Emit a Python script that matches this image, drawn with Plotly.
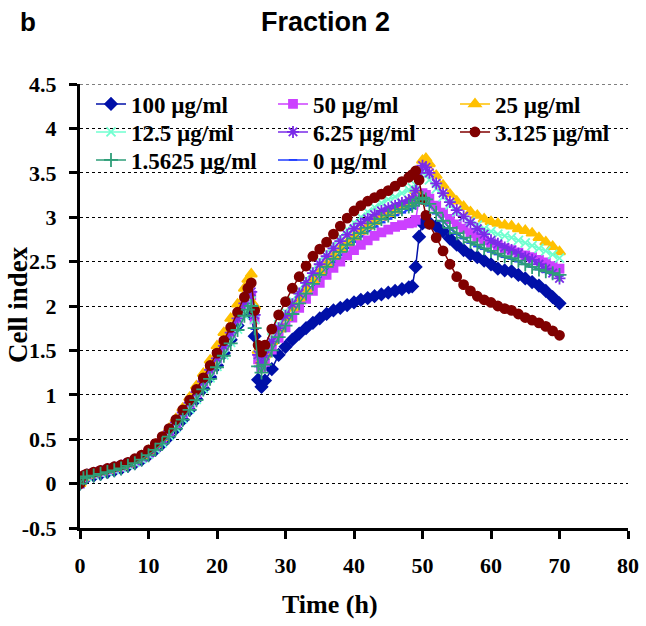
import plotly.graph_objects as go

# Time points (h)
time_h = [0, 0.5, 1, 2, 3, 4, 5, 6, 7, 8, 9, 10, 11, 12, 13, 14, 15, 16, 17, 18, 19, 20, 21, 22, 23, 24,
          24.5, 25, 25.5, 26, 26.5,
          27, 28, 29, 30, 31, 32, 33, 34, 35, 36, 37, 38, 39, 40, 41, 42, 43, 44, 45, 46, 47, 48,
          48.5, 49, 49.5, 50, 50.5,
          51, 52, 53, 54, 55, 56, 57, 58, 59, 60, 61, 62, 63, 64, 65, 66, 67, 68, 69, 70]

ci_100 = [0, 0.05, 0.07, 0.09, 0.11, 0.13, 0.15, 0.17, 0.2, 0.23, 0.27, 0.32, 0.38, 0.45, 0.53, 0.62, 0.72, 0.83, 0.95, 1.07, 1.2, 1.33, 1.47, 1.62, 1.78, 1.95,
          2.02, 1.9, 1.66, 1.17, 1.09,
          1.16, 1.29, 1.45, 1.54, 1.62, 1.69, 1.75, 1.81, 1.86, 1.91, 1.95, 1.98, 2.01, 2.04, 2.07, 2.09, 2.11, 2.13, 2.15, 2.17, 2.19, 2.21,
          2.22, 2.44, 2.78, 2.93, 2.95,
          2.94, 2.9, 2.84, 2.76, 2.69, 2.63, 2.58, 2.55, 2.51, 2.47, 2.42, 2.4, 2.39, 2.35, 2.31, 2.27, 2.23, 2.17, 2.1, 2.03]

ci_50 = [0, 0.07, 0.09, 0.11, 0.13, 0.15, 0.17, 0.19, 0.22, 0.25, 0.29, 0.34, 0.41, 0.49, 0.58, 0.68, 0.79, 0.9, 1.02, 1.14, 1.27, 1.4, 1.54, 1.69, 1.85, 2.01,
         2.08, 2.12, 1.85, 1.4, 1.3,
         1.37, 1.51, 1.64, 1.76, 1.87, 1.98, 2.08, 2.17, 2.26, 2.35, 2.43, 2.5, 2.57, 2.63, 2.69, 2.74, 2.79, 2.83, 2.86, 2.89, 2.91, 2.93,
         2.94, 2.97, 3.2, 3.27, 3.25,
         3.21, 3.13, 3.05, 2.98, 2.92, 2.87, 2.82, 2.78, 2.74, 2.71, 2.68, 2.65, 2.63, 2.6, 2.57, 2.55, 2.52, 2.49, 2.45, 2.42]

ci_25 = [0, 0.07, 0.09, 0.11, 0.13, 0.15, 0.17, 0.19, 0.22, 0.26, 0.31, 0.37, 0.44, 0.52, 0.62, 0.73, 0.85, 0.97, 1.1, 1.24, 1.39, 1.55, 1.7, 1.86, 2.02, 2.2,
         2.3, 2.36, 2.0, 1.5, 1.38,
         1.45, 1.6, 1.74, 1.87, 1.98, 2.09, 2.19, 2.29, 2.38, 2.47, 2.56, 2.64, 2.71, 2.78, 2.84, 2.9, 2.95, 3.0, 3.04, 3.08, 3.13, 3.17,
         3.2, 3.3, 3.52, 3.64, 3.66,
         3.6, 3.47, 3.36, 3.26, 3.18, 3.12, 3.06, 3.02, 2.98, 2.95, 2.93, 2.91, 2.9, 2.87, 2.85, 2.82, 2.77, 2.72, 2.67, 2.61]

ci_12_5 = [0, 0.07, 0.08, 0.1, 0.12, 0.14, 0.16, 0.18, 0.21, 0.24, 0.28, 0.33, 0.39, 0.46, 0.54, 0.63, 0.73, 0.84, 0.95, 1.07, 1.19, 1.32, 1.45, 1.59, 1.74, 1.9,
           1.98, 2.06, 1.85, 1.45, 1.38,
           1.47, 1.64, 1.79, 1.93, 2.06, 2.18, 2.3, 2.41, 2.51, 2.6, 2.69, 2.78, 2.86, 2.94, 3.0, 3.06, 3.11, 3.16, 3.2, 3.23, 3.27, 3.31,
           3.33, 3.36, 3.46, 3.5, 3.47,
           3.42, 3.32, 3.23, 3.14, 3.06, 3.0, 2.95, 2.91, 2.87, 2.84, 2.81, 2.79, 2.77, 2.74, 2.71, 2.68, 2.65, 2.62, 2.58, 2.54]

ci_6_25 = [0, 0.08, 0.1, 0.12, 0.14, 0.16, 0.18, 0.2, 0.23, 0.26, 0.3, 0.35, 0.42, 0.5, 0.59, 0.69, 0.8, 0.91, 1.03, 1.15, 1.28, 1.41, 1.55, 1.7, 1.86, 2.03,
           2.12, 2.16, 1.9, 1.45, 1.36,
           1.44, 1.6, 1.75, 1.89, 2.02, 2.14, 2.26, 2.37, 2.47, 2.56, 2.65, 2.73, 2.8, 2.87, 2.93, 2.98, 3.03, 3.07, 3.1, 3.13, 3.16, 3.19,
           3.21, 3.3, 3.5, 3.58, 3.56,
           3.5, 3.38, 3.27, 3.17, 3.08, 3.01, 2.94, 2.87, 2.81, 2.74, 2.7, 2.66, 2.63, 2.59, 2.55, 2.52, 2.47, 2.42, 2.37, 2.31]

ci_3_125 = [0, 0.09, 0.11, 0.13, 0.15, 0.17, 0.19, 0.21, 0.24, 0.28, 0.32, 0.38, 0.45, 0.53, 0.62, 0.72, 0.83, 0.94, 1.06, 1.19, 1.33, 1.47, 1.61, 1.76, 1.93, 2.1,
            2.2, 2.26, 1.95, 1.56, 1.48,
            1.56, 1.74, 1.9, 2.05, 2.2, 2.33, 2.45, 2.56, 2.64, 2.72, 2.81, 2.9, 2.99, 3.07, 3.13, 3.18, 3.22, 3.26, 3.3, 3.35, 3.4, 3.45,
            3.48, 3.52, 3.42, 3.2, 3.02,
            2.92, 2.77, 2.62, 2.47, 2.33, 2.24, 2.17, 2.11, 2.07, 2.04, 2.0, 1.97, 1.95, 1.91, 1.87, 1.84, 1.81, 1.77, 1.72, 1.67]

ci_1_5625 = [0, 0.06, 0.08, 0.09, 0.11, 0.13, 0.15, 0.17, 0.2, 0.23, 0.27, 0.32, 0.38, 0.45, 0.53, 0.62, 0.72, 0.83, 0.94, 1.06, 1.18, 1.31, 1.44, 1.58, 1.73, 1.89,
             1.96, 2.0, 1.75, 1.32, 1.25,
             1.34, 1.5, 1.65, 1.78, 1.91, 2.03, 2.14, 2.25, 2.35, 2.44, 2.53, 2.61, 2.69, 2.76, 2.82, 2.88, 2.93, 2.98, 3.02, 3.06, 3.09, 3.12,
             3.13, 3.16, 3.2, 3.22, 3.2,
             3.15, 3.05, 2.96, 2.88, 2.82, 2.77, 2.72, 2.69, 2.65, 2.62, 2.59, 2.56, 2.54, 2.51, 2.47, 2.44, 2.41, 2.39, 2.37, 2.35]

ci_0 = [0, 0.05, 0.07, 0.09, 0.11, 0.13, 0.15, 0.17, 0.2, 0.23, 0.27, 0.32, 0.38, 0.45, 0.53, 0.62, 0.72, 0.83, 0.94, 1.06, 1.18, 1.31, 1.44, 1.58, 1.73, 1.88,
        1.95, 1.98, 1.74, 1.32, 1.26,
        1.35, 1.5, 1.64, 1.77, 1.89, 2.0, 2.11, 2.21, 2.31, 2.4, 2.49, 2.57, 2.65, 2.72, 2.78, 2.84, 2.89, 2.94, 2.98, 3.02, 3.05, 3.08,
        3.1, 3.13, 3.18, 3.2, 3.18,
        3.13, 3.04, 2.95, 2.87, 2.81, 2.76, 2.71, 2.67, 2.64, 2.61, 2.58, 2.55, 2.53, 2.5, 2.47, 2.44, 2.41, 2.38, 2.36, 2.34]

series_names = ["100 µg/ml", "50 µg/ml", "25 µg/ml", "12.5 µg/ml", "6.25 µg/ml",
                "3.125 µg/ml", "1.5625 µg/ml", "0 µg/ml"]

y_tick_vals = [-0.5, 0, 0.5, 1, 1.5, 2, 2.5, 3, 3.5, 4, 4.5]
y_tick_text = ["-0.5", "0", "0.5", "1", "1.5", "2", "2.5", "3", "3.5", "4", "4.5"]
x_tick_vals = [0, 10, 20, 30, 40, 50, 60, 70, 80]

serif = "Liberation Serif, Times New Roman, serif"
sans = "Liberation Sans, Arial, sans-serif"

W, H = 646, 626
l, r, t, b = 80, 18, 84, 98
pw, ph = W - l - r, H - t - b

# legend grid (pixel left of legend box per column, pixel centre per row)
col_px = [91, 273, 455]
row_px = [104, 132, 160]

# name, data, color, symbol, size, (col,row)
styles = [
    (series_names[7], ci_0, "#1F3DFF", "line-ew-open", 6, (1, 2)),
    (series_names[0], ci_100, "#0010A8", "diamond", 9, (0, 0)),
    (series_names[1], ci_50, "#CC40FF", "square", 8, (1, 0)),
    (series_names[2], ci_25, "#FFC000", "triangle-up", 10, (2, 0)),
    (series_names[3], ci_12_5, "#70FFD0", "x-thin-open", 9, (0, 1)),
    (series_names[4], ci_6_25, "#7A2BE8", "asterisk-open", 10, (1, 1)),
    (series_names[5], ci_3_125, "#800000", "circle", 9, (2, 1)),
    (series_names[6], ci_1_5625, "#2E9E78", "cross-thin-open", 10, (0, 2)),
]

leg_font = dict(family=serif, size=23, color="black", weight="bold")

fig = go.Figure()
legend_layouts = {}
for i, (name, data, color, sym, size, (c, rr)) in enumerate(styles):
    key = "legend" if i == 0 else f"legend{i + 1}"
    fig.add_trace(go.Scatter(
        x=time_h, y=data, name=name, mode="lines+markers",
        line=dict(color=color, width=1.5),
        marker=dict(symbol=sym, size=size, color=color, line=dict(color=color, width=1.8)),
        legend=key, showlegend=True,
    ))
    legend_layouts[key] = dict(
        font=leg_font, bgcolor="rgba(0,0,0,0)", xanchor="left", yanchor="middle",
        x=(col_px[c] - l) / pw, y=(H - b - row_px[rr]) / ph, itemwidth=30, visible=True,
    )

def ann(text, x, y, font, angle=0):
    return dict(text=text, xref="paper", yref="paper", x=(x - l) / pw, y=(H - b - y) / ph,
                xanchor="center", yanchor="middle", showarrow=False, textangle=angle, font=font)

fig.update_layout(
    width=W, height=H, showlegend=True,
    margin=dict(l=l, r=r, t=t, b=b, autoexpand=False),
    paper_bgcolor="white", plot_bgcolor="white",
    xaxis=dict(range=[0, 80], tickvals=x_tick_vals, ticks="outside", ticklen=8, tickwidth=3,
               tickcolor="black", showline=True, linewidth=3, linecolor="black",
               showgrid=False, zeroline=False, ticklabelstandoff=8, automargin=False,
               tickfont=dict(family=serif, size=22, color="black", weight="bold")),
    yaxis=dict(range=[-0.5, 4.5], tickvals=y_tick_vals, ticktext=y_tick_text, ticks="outside",
               ticklen=8, tickwidth=3, tickcolor="black", showline=True, linewidth=3,
               linecolor="black", showgrid=True, gridcolor="black", gridwidth=1, griddash="dot",
               zeroline=False, ticklabelstandoff=8, automargin=False,
               tickfont=dict(family=serif, size=22, color="black", weight="bold")),
    annotations=[
        ann("Fraction 2", 325, 22, dict(family=sans, size=27, color="black", weight="bold")),
        ann("b", 28, 22, dict(family=sans, size=26, color="black", weight="bold")),
        ann("Time (h)", 330, 604, dict(family=serif, size=26, color="black", weight="bold")),
        ann("Cell index", 18, 305, dict(family=serif, size=27, color="black", weight="bold"), -90),
    ],
    **legend_layouts,
)

# top dotted gridline at 4.5
fig.add_shape(type="line", xref="paper", yref="y", x0=0, x1=1, y0=4.5, y1=4.5,
              line=dict(color="black", width=1, dash="dot"), layer="below")

fig.write_html("out.html", config={"displayModeBar": False},
               post_script="document.body.style.margin='0px';")
